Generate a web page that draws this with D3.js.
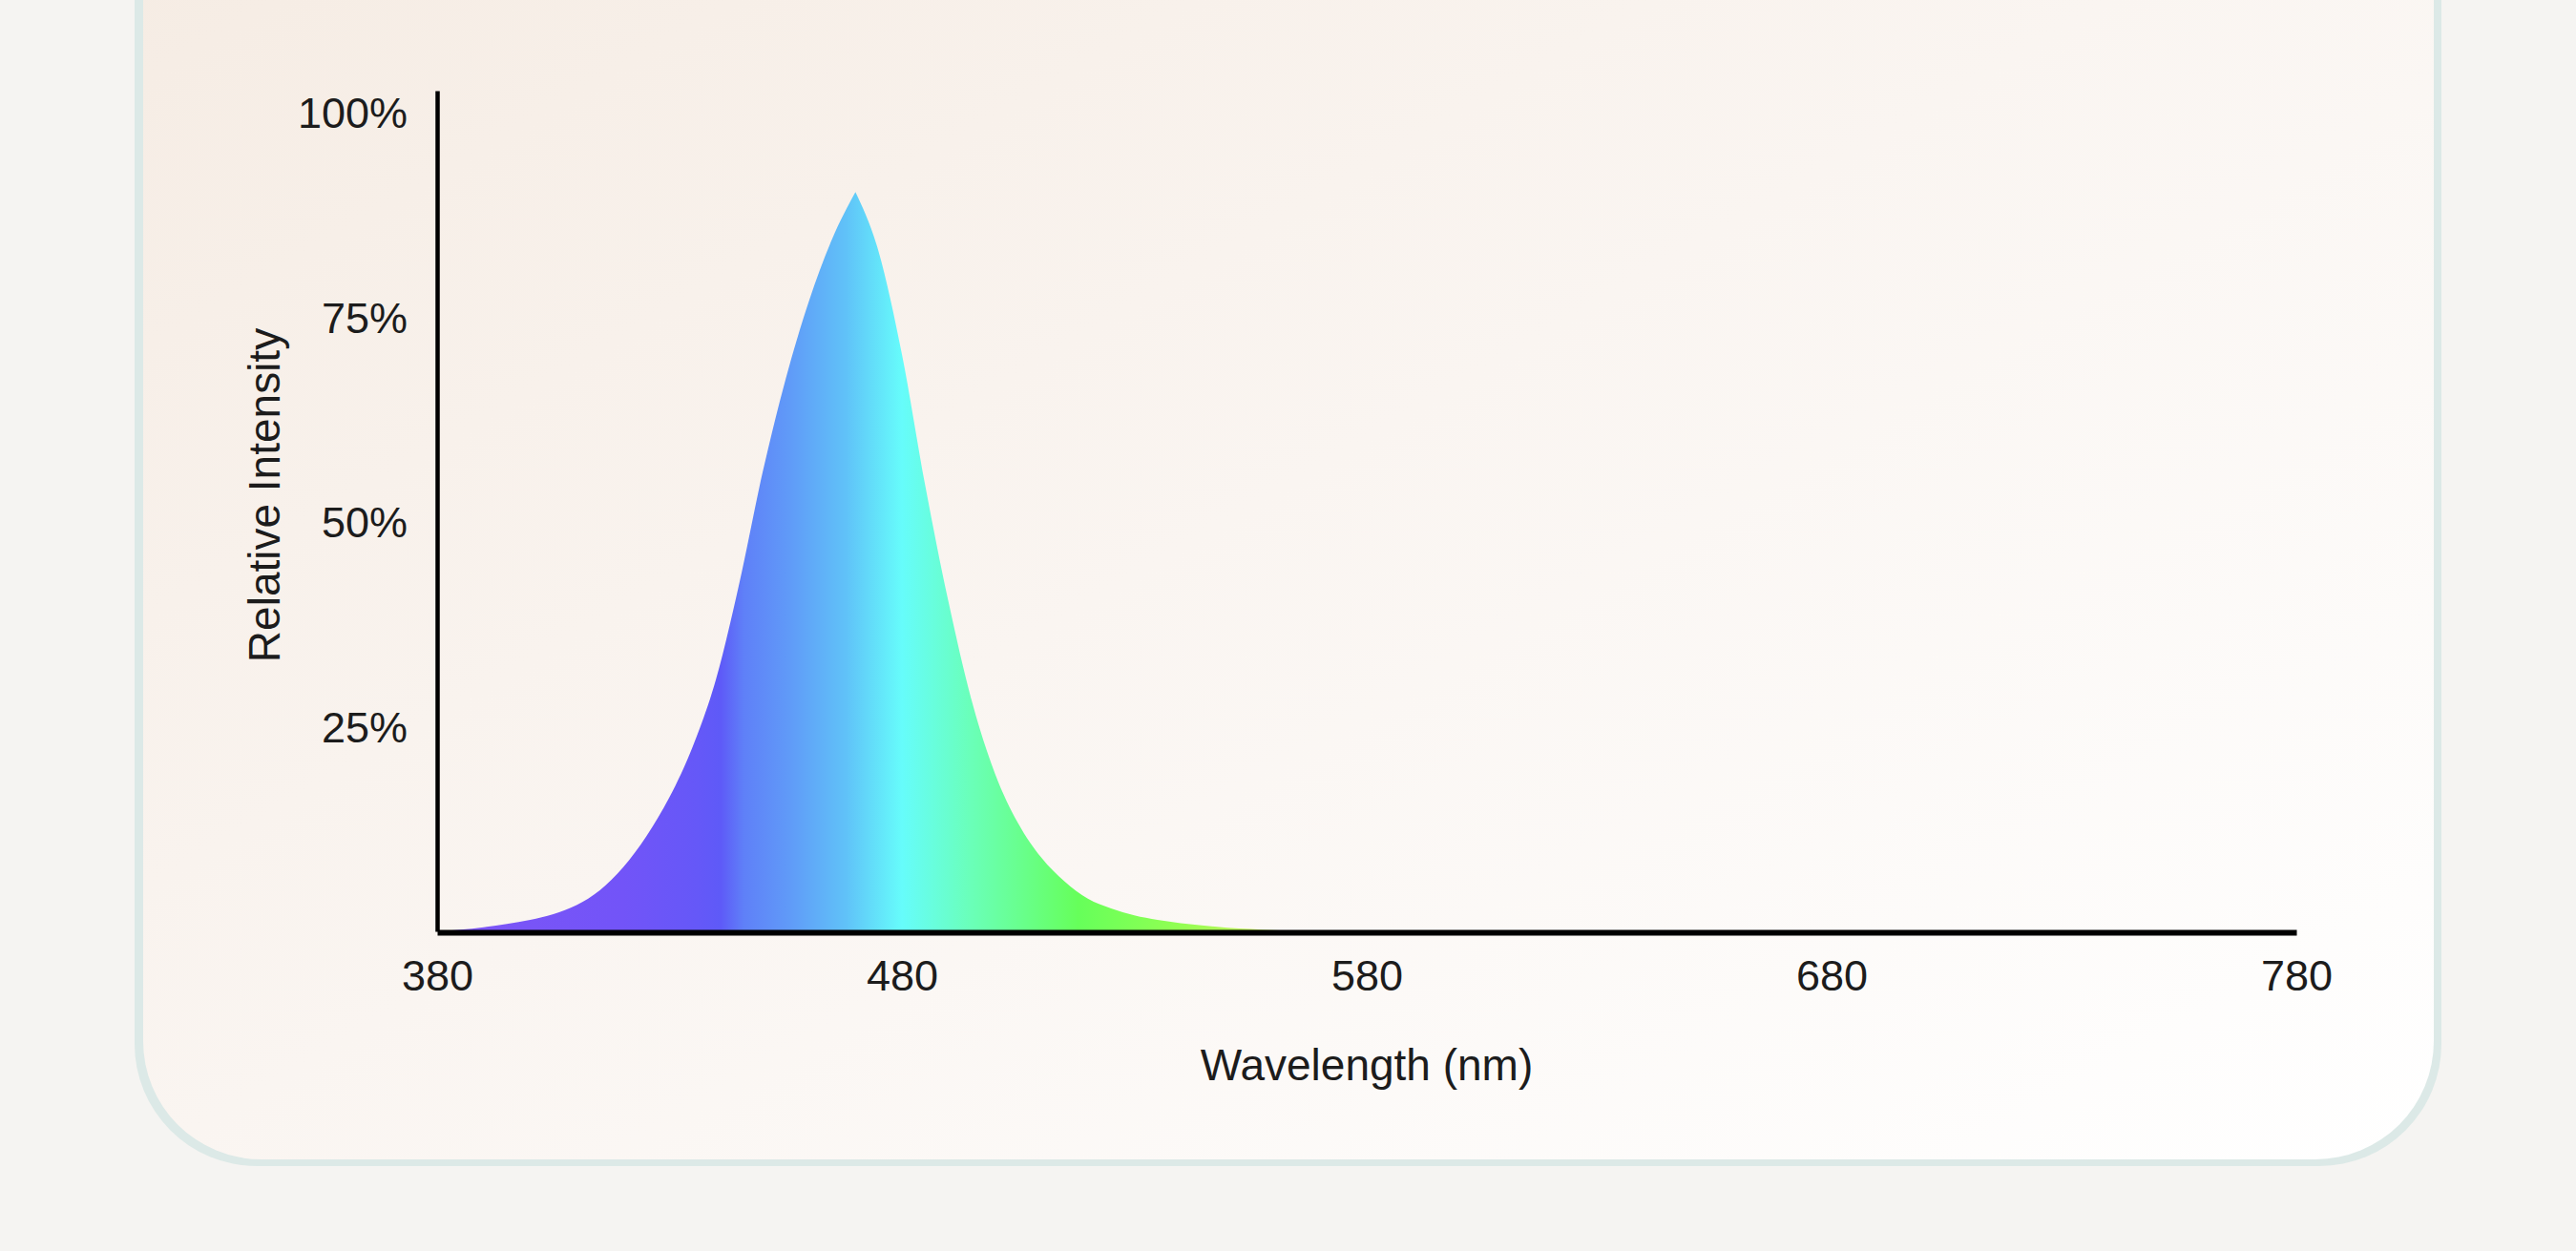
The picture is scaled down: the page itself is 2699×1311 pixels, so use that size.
<!DOCTYPE html>
<html>
<head>
<meta charset="utf-8">
<script src="https://cdn.jsdelivr.net/npm/d3@7"></script>
<style>
  html, body { margin: 0; padding: 0; background: #f5f4f2; overflow: hidden; }
  svg { display: block; }
  text { font-family: "Liberation Sans", Arial, sans-serif; fill: #1c1c1c; }
</style>
</head>
<body>
<svg id="chart" width="2699" height="1311"></svg>
<script>
// ---- data ----
const wavelengths = [380, 385, 390, 395, 400, 405, 410, 415, 420, 425, 430, 435, 440, 445, 450, 455, 460, 465, 470,
                     475, 480, 485, 490, 495, 500, 505, 510, 515, 520, 525, 530, 535, 540, 545, 550, 555, 560, 570, 780];
const intensity   = [0, 0.2, 0.5, 0.9, 1.4, 2.1, 3.2, 5.0, 7.8, 11.6, 16.4, 22.6, 30.8, 42.5, 56.0, 67.5, 77.0, 84.6, 90.3,
                     83.0, 70.5, 54.5, 40.3, 28.2, 19.3, 13.2, 9.0, 6.1, 4.0, 2.8, 1.95, 1.4, 1.0, 0.7, 0.45, 0.3, 0.15, 0, 0];
const xTicks = [380, 480, 580, 680, 780];
const yTicks = [25, 50, 75, 100];
const yTickLabels = ["25%", "50%", "75%", "100%"];
const xTitle = "Wavelength (nm)";
const yTitle = "Relative Intensity";
// spectrum colour stops (wavelength -> colour)
const stopWavelengths = [380, 420, 436, 441, 446, 456, 468, 480, 495, 518, 540, 555];
const stopColors = ["#7f55f6", "#7254f8", "#6558f8", "#5e5af8", "#5f80f8", "#609bf8", "#60c2f8", "#66fcfb", "#6affb8", "#66ff5a", "#92ff52", "#c4f45c"];

// ---- layout ----
const svg = d3.select("#chart");
const plot = { left: 458, right: 2406, top: 95, bottom: 976 };

const defs = svg.append("defs");
const cardGrad = defs.append("linearGradient").attr("id", "cardGrad")
  .attr("x1", 0).attr("y1", 0).attr("x2", 1).attr("y2", 1);
cardGrad.append("stop").attr("offset", "0%").attr("stop-color", "#f5ebe2");
cardGrad.append("stop").attr("offset", "50%").attr("stop-color", "#faf5f1");
cardGrad.append("stop").attr("offset", "100%").attr("stop-color", "#ffffff");

// card shadow + card
svg.append("rect").attr("x", 141).attr("y", -200).attr("width", 2558 - 141).attr("height", 1222 + 200)
  .attr("rx", 128).attr("fill", "#dce9e7");
svg.append("rect").attr("x", 150).attr("y", -200).attr("width", 2550 - 150).attr("height", 1215 + 200)
  .attr("rx", 124).attr("fill", "url(#cardGrad)");

// scales
const x = d3.scaleLinear().domain([380, 780]).range([plot.left, plot.right]);
const y = d3.scaleLinear().domain([0, 102.7]).range([plot.bottom, plot.top]);

// spectrum gradient
const specGrad = defs.append("linearGradient").attr("id", "specGrad")
  .attr("gradientUnits", "userSpaceOnUse")
  .attr("x1", x(380)).attr("x2", x(780)).attr("y1", 0).attr("y2", 0);
stopWavelengths.forEach((w, i) => {
  specGrad.append("stop").attr("offset", ((w - 380) / 400 * 100) + "%").attr("stop-color", stopColors[i]);
});

const data = wavelengths.map((w, i) => ({ w, v: intensity[i] }));
// smooth flanks, sharp peak: the two flanks are drawn as separate monotone curves joined at the maximum
const peak = data.reduce((a, b) => (b.v > a.v ? b : a));
const lineGen = d3.line().x(d => x(d.w)).y(d => y(d.v)).curve(d3.curveMonotoneX);
const leftPath = lineGen(data.filter(d => d.w <= peak.w));
const rightPath = lineGen(data.filter(d => d.w >= peak.w)).replace(/^M/, "L");
const d0 = data[0], dN = data[data.length - 1];
svg.append("path")
  .attr("d", `${leftPath}${rightPath}L${x(dN.w)},${y(0)}L${x(d0.w)},${y(0)}Z`)
  .attr("fill", "url(#specGrad)");

// axes
const xAxis = svg.append("g").attr("transform", `translate(0,${plot.bottom + 1})`)
  .call(d3.axisBottom(x).tickValues(xTicks).tickSize(0).tickSizeOuter(0).tickFormat(d3.format("d")));
xAxis.select(".domain").attr("stroke", "#000").attr("stroke-width", 6);
xAxis.selectAll(".tick text").attr("y", 45).attr("dy", "0.35em")
  .attr("font-size", 45).attr("fill", "#1c1c1c")
  .style("font-family", '"Liberation Sans", Arial, sans-serif');

const yAxis = svg.append("g").attr("transform", `translate(${plot.left},0)`)
  .call(d3.axisLeft(y).tickValues(yTicks).tickSize(0).tickSizeOuter(0)
    .tickFormat((d, i) => yTickLabels[i]));
yAxis.select(".domain").attr("stroke", "#000").attr("stroke-width", 4.5);
yAxis.selectAll(".tick text").attr("x", -31).attr("dy", "0.35em")
  .attr("font-size", 45).attr("fill", "#1c1c1c")
  .style("font-family", '"Liberation Sans", Arial, sans-serif');

// titles
svg.append("text").attr("x", (plot.left + plot.right) / 2).attr("y", 1116)
  .attr("text-anchor", "middle").attr("dominant-baseline", "central")
  .attr("font-size", 46).text(xTitle);
svg.append("text").attr("transform", "translate(277,519) rotate(-90)")
  .attr("text-anchor", "middle").attr("dominant-baseline", "central")
  .attr("font-size", 46).text(yTitle);
</script>
</body>
</html>
